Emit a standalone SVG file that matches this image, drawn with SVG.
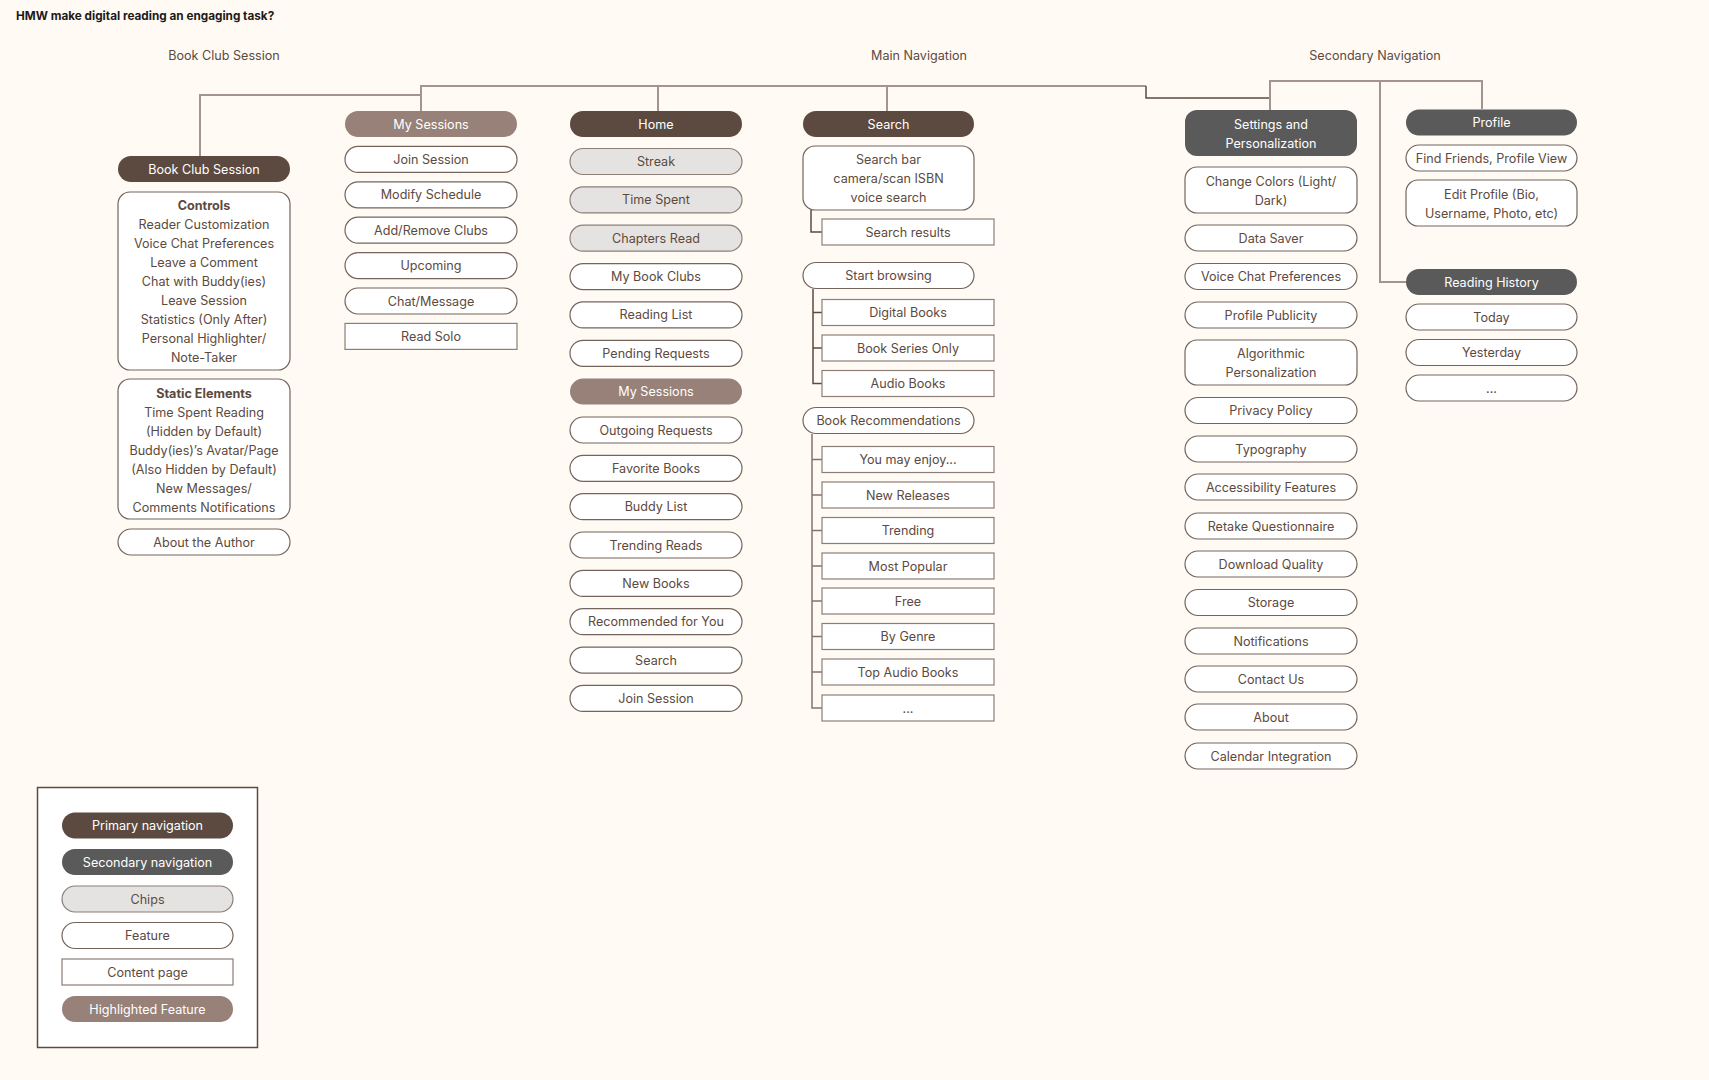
<svg xmlns="http://www.w3.org/2000/svg" width="1709" height="1080" viewBox="0 0 1709 1080">
<style>
text{font-family:Inter,"Liberation Sans",sans-serif;font-size:12.6px;fill:#5c4a40;text-anchor:middle}
.title{font-size:11.75px;font-weight:700;fill:#1e1a18;text-anchor:start}
.b{font-weight:700}
.w{fill:#ffffff}
.pri{fill:#5c4a40}
.sec{fill:#5a5a5a}
.chip{fill:#e5e3e1;stroke:#8c7e77;stroke-width:1.2}
.feat{fill:#ffffff;stroke:#74645c;stroke-width:1.2}
.page{fill:#ffffff;stroke:#8c7e77;stroke-width:1.2}
.hl{fill:#978178}
.cl{fill:none;stroke:#a3958d;stroke-width:2}
.cd{fill:none;stroke:#5c4a40;stroke-width:1.5}
.ct{fill:none;stroke:#85746b;stroke-width:1.5}
</style>
<rect x="0" y="0" width="1709" height="1080" fill="#fffbf4"/>
<text class="title" x="16" y="20">HMW make digital reading an engaging task?</text>
<text x="224" y="59.5">Book Club Session</text>
<text x="919" y="59.5">Main Navigation</text>
<text x="1375" y="59.5">Secondary Navigation</text>

<g id="connectors">
<path class="cl" d="M200,156 V95 H421"/>
<path class="cl" d="M421,111 V86 H1146"/>
<path class="cl" d="M658,86 V111"/>
<path class="cl" d="M887,86 V111"/>
<path class="cd" d="M1146,86 V98 H1270"/>
<path class="cl" d="M1270,110 V81 H1482 V109"/>
<path class="cl" d="M1380,81 V282 H1406"/>
<path class="cd" d="M811,210 V232 H822"/>
<path class="cd" d="M813,289 V383.5 H822 M813,312.5 H822 M813,348 H822"/>
<path class="ct" d="M812,434 V708 H822 M812,459.5 H822 M812,495 H822 M812,530.5 H822 M812,566 H822 M812,601 H822 M812,636.5 H822 M812,672 H822"/>
</g>

<!-- Column 1: Book Club Session -->
<g id="bcs"><rect class="pri" x="118" y="156" width="172" height="26" rx="13"/><text class="w" x="204" y="173.5">Book Club Session</text></g>
<g id="controls"><rect class="feat" x="118" y="192" width="172" height="178" rx="12"/>
<text class="b" x="204" y="209.5">Controls</text>
<text x="204" y="228.5">Reader Customization</text>
<text x="204" y="247.5">Voice Chat Preferences</text>
<text x="204" y="266.5">Leave a Comment</text>
<text x="204" y="285.5">Chat with Buddy(ies)</text>
<text x="204" y="304.5">Leave Session</text>
<text x="204" y="323.5">Statistics (Only After)</text>
<text x="204" y="342.5">Personal Highlighter/</text>
<text x="204" y="361.5">Note-Taker</text></g>
<g id="static"><rect class="feat" x="118" y="379" width="172" height="140" rx="12"/>
<text class="b" x="204" y="397.5">Static Elements</text>
<text x="204" y="416.5">Time Spent Reading</text>
<text x="204" y="435.5">(Hidden by Default)</text>
<text x="204" y="454.5">Buddy(ies)’s Avatar/Page</text>
<text x="204" y="473.5">(Also Hidden by Default)</text>
<text x="204" y="492.5">New Messages/</text>
<text x="204" y="511.5">Comments Notifications</text></g>
<g id="author"><rect class="feat" x="118" y="529" width="172" height="26" rx="13"/><text x="204" y="546.5">About the Author</text></g>

<!-- Column 2: My Sessions -->
<g id="mysessions"><rect class="hl" x="345" y="111" width="172" height="26" rx="13"/><text class="w" x="431" y="128.5">My Sessions</text></g>
<g id="ms-join"><rect class="feat" x="345" y="146.4" width="172" height="26" rx="13"/><text x="431" y="163.9">Join Session</text></g>
<g id="ms-modify"><rect class="feat" x="345" y="181.8" width="172" height="26" rx="13"/><text x="431" y="199.3">Modify Schedule</text></g>
<g id="ms-clubs"><rect class="feat" x="345" y="217.2" width="172" height="26" rx="13"/><text x="431" y="234.7">Add/Remove Clubs</text></g>
<g id="ms-upcoming"><rect class="feat" x="345" y="252.6" width="172" height="26" rx="13"/><text x="431" y="270.1">Upcoming</text></g>
<g id="ms-chat"><rect class="feat" x="345" y="288" width="172" height="26" rx="13"/><text x="431" y="305.5">Chat/Message</text></g>
<g id="ms-solo"><rect class="page" x="345" y="323.4" width="172" height="26"/><text x="431" y="340.9">Read Solo</text></g>

<!-- Column 3: Home -->
<g id="home"><rect class="pri" x="570" y="111" width="172" height="26" rx="13"/><text class="w" x="656" y="128.5">Home</text></g>
<g id="h-streak"><rect class="chip" x="570" y="148.5" width="172" height="26" rx="13"/><text x="656" y="166">Streak</text></g>
<g id="h-time"><rect class="chip" x="570" y="186.9" width="172" height="26" rx="13"/><text x="656" y="204.4">Time Spent</text></g>
<g id="h-chapters"><rect class="chip" x="570" y="225.2" width="172" height="26" rx="13"/><text x="656" y="242.7">Chapters Read</text></g>
<g id="h-clubs"><rect class="feat" x="570" y="263.6" width="172" height="26" rx="13"/><text x="656" y="281.1">My Book Clubs</text></g>
<g id="h-reading"><rect class="feat" x="570" y="301.9" width="172" height="26" rx="13"/><text x="656" y="319.4">Reading List</text></g>
<g id="h-pending"><rect class="feat" x="570" y="340.3" width="172" height="26" rx="13"/><text x="656" y="357.8">Pending Requests</text></g>
<g id="h-sessions"><rect class="hl" x="570" y="378.6" width="172" height="26" rx="13"/><text class="w" x="656" y="396.1">My Sessions</text></g>
<g id="h-outgoing"><rect class="feat" x="570" y="417" width="172" height="26" rx="13"/><text x="656" y="434.5">Outgoing Requests</text></g>
<g id="h-favorite"><rect class="feat" x="570" y="455.3" width="172" height="26" rx="13"/><text x="656" y="472.8">Favorite Books</text></g>
<g id="h-buddy"><rect class="feat" x="570" y="493.7" width="172" height="26" rx="13"/><text x="656" y="511.2">Buddy List</text></g>
<g id="h-trending"><rect class="feat" x="570" y="532" width="172" height="26" rx="13"/><text x="656" y="549.5">Trending Reads</text></g>
<g id="h-new"><rect class="feat" x="570" y="570.4" width="172" height="26" rx="13"/><text x="656" y="587.9">New Books</text></g>
<g id="h-rec"><rect class="feat" x="570" y="608.7" width="172" height="26" rx="13"/><text x="656" y="626.2">Recommended for You</text></g>
<g id="h-search"><rect class="feat" x="570" y="647.1" width="172" height="26" rx="13"/><text x="656" y="664.6">Search</text></g>
<g id="h-join"><rect class="feat" x="570" y="685.4" width="172" height="26" rx="13"/><text x="656" y="702.9">Join Session</text></g>

<!-- Column 4: Search -->
<g id="search"><rect class="pri" x="803" y="111" width="171" height="26" rx="13"/><text class="w" x="888.5" y="128.5">Search</text></g>
<g id="s-bar"><rect class="feat" x="803" y="146" width="171" height="64" rx="12"/>
<text x="888.5" y="163.5">Search bar</text>
<text x="888.5" y="182.5">camera/scan ISBN</text>
<text x="888.5" y="201.5">voice search</text></g>
<g id="s-results"><rect class="page" x="822" y="219" width="172" height="26"/><text x="908" y="236.5">Search results</text></g>
<g id="s-browse"><rect class="feat" x="803" y="262.5" width="171" height="26" rx="13"/><text x="888.5" y="280">Start browsing</text></g>
<g id="s-digital"><rect class="page" x="822" y="299.5" width="172" height="26"/><text x="908" y="317">Digital Books</text></g>
<g id="s-series"><rect class="page" x="822" y="335" width="172" height="26"/><text x="908" y="352.5">Book Series Only</text></g>
<g id="s-audio"><rect class="page" x="822" y="370.5" width="172" height="26"/><text x="908" y="388">Audio Books</text></g>
<g id="s-rec"><rect class="feat" x="803" y="407.5" width="171" height="26" rx="13"/><text x="888.5" y="425">Book Recommendations</text></g>
<g id="s-enjoy"><rect class="page" x="822" y="446.5" width="172" height="26"/><text x="908" y="464">You may enjoy...</text></g>
<g id="s-releases"><rect class="page" x="822" y="482" width="172" height="26"/><text x="908" y="499.5">New Releases</text></g>
<g id="s-trending"><rect class="page" x="822" y="517.5" width="172" height="26"/><text x="908" y="535">Trending</text></g>
<g id="s-popular"><rect class="page" x="822" y="553" width="172" height="26"/><text x="908" y="570.5">Most Popular</text></g>
<g id="s-free"><rect class="page" x="822" y="588" width="172" height="26"/><text x="908" y="605.5">Free</text></g>
<g id="s-genre"><rect class="page" x="822" y="623.5" width="172" height="26"/><text x="908" y="641">By Genre</text></g>
<g id="s-topaudio"><rect class="page" x="822" y="659" width="172" height="26"/><text x="908" y="676.5">Top Audio Books</text></g>
<g id="s-more"><rect class="page" x="822" y="695" width="172" height="26"/><text x="908" y="712.5">...</text></g>

<!-- Column 5: Settings -->
<g id="settings"><rect class="sec" x="1185" y="110" width="172" height="46" rx="12"/>
<text class="w" x="1271" y="128.5">Settings and</text>
<text class="w" x="1271" y="147.5">Personalization</text></g>
<g id="st-colors"><rect class="feat" x="1185" y="167" width="172" height="46" rx="12"/>
<text x="1271" y="185.5">Change Colors (Light/</text>
<text x="1271" y="204.5">Dark)</text></g>
<g id="st-data"><rect class="feat" x="1185" y="225" width="172" height="26" rx="13"/><text x="1271" y="242.5">Data Saver</text></g>
<g id="st-voice"><rect class="feat" x="1185" y="263.5" width="172" height="26" rx="13"/><text x="1271" y="281">Voice Chat Preferences</text></g>
<g id="st-publicity"><rect class="feat" x="1185" y="302" width="172" height="26" rx="13"/><text x="1271" y="319.5">Profile Publicity</text></g>
<g id="st-algo"><rect class="feat" x="1185" y="340" width="172" height="45" rx="12"/>
<text x="1271" y="357.5">Algorithmic</text>
<text x="1271" y="376.5">Personalization</text></g>
<g id="st-privacy"><rect class="feat" x="1185" y="397.5" width="172" height="26" rx="13"/><text x="1271" y="415">Privacy Policy</text></g>
<g id="st-typo"><rect class="feat" x="1185" y="436" width="172" height="26" rx="13"/><text x="1271" y="453.5">Typography</text></g>
<g id="st-access"><rect class="feat" x="1185" y="474" width="172" height="26" rx="13"/><text x="1271" y="491.5">Accessibility Features</text></g>
<g id="st-retake"><rect class="feat" x="1185" y="513" width="172" height="26" rx="13"/><text x="1271" y="530.5">Retake Questionnaire</text></g>
<g id="st-download"><rect class="feat" x="1185" y="551" width="172" height="26" rx="13"/><text x="1271" y="568.5">Download Quality</text></g>
<g id="st-storage"><rect class="feat" x="1185" y="589.5" width="172" height="26" rx="13"/><text x="1271" y="607">Storage</text></g>
<g id="st-notif"><rect class="feat" x="1185" y="628" width="172" height="26" rx="13"/><text x="1271" y="645.5">Notifications</text></g>
<g id="st-contact"><rect class="feat" x="1185" y="666" width="172" height="26" rx="13"/><text x="1271" y="683.5">Contact Us</text></g>
<g id="st-about"><rect class="feat" x="1185" y="704" width="172" height="26" rx="13"/><text x="1271" y="721.5">About</text></g>
<g id="st-calendar"><rect class="feat" x="1185" y="743" width="172" height="26" rx="13"/><text x="1271" y="760.5">Calendar Integration</text></g>

<!-- Column 6: Profile -->
<g id="profile"><rect class="sec" x="1406" y="109.5" width="171" height="26" rx="13"/><text class="w" x="1491.5" y="127">Profile</text></g>
<g id="p-friends"><rect class="feat" x="1406" y="145" width="171" height="26" rx="13"/><text x="1491.5" y="162.5">Find Friends, Profile View</text></g>
<g id="p-edit"><rect class="feat" x="1406" y="180" width="171" height="46" rx="12"/>
<text x="1491.5" y="198.5">Edit Profile (Bio,</text>
<text x="1491.5" y="217.5">Username, Photo, etc)</text></g>
<g id="history"><rect class="sec" x="1406" y="269" width="171" height="26" rx="13"/><text class="w" x="1491.5" y="286.5">Reading History</text></g>
<g id="r-today"><rect class="feat" x="1406" y="304" width="171" height="26" rx="13"/><text x="1491.5" y="321.5">Today</text></g>
<g id="r-yesterday"><rect class="feat" x="1406" y="339.5" width="171" height="26" rx="13"/><text x="1491.5" y="357">Yesterday</text></g>
<g id="r-more"><rect class="feat" x="1406" y="375" width="171" height="26" rx="13"/><text x="1491.5" y="392.5">...</text></g>

<!-- Legend -->
<g id="legend">
<rect x="37.5" y="787.5" width="220" height="260" fill="#ffffff" stroke="#5c4a40" stroke-width="1.5"/>
<rect class="pri" x="62" y="812.5" width="171" height="26" rx="13"/><text class="w" x="147.5" y="830">Primary navigation</text>
<rect class="sec" x="62" y="849" width="171" height="26" rx="13"/><text class="w" x="147.5" y="866.5">Secondary navigation</text>
<rect class="chip" x="62" y="886" width="171" height="26" rx="13"/><text x="147.5" y="903.5">Chips</text>
<rect class="feat" x="62" y="922.5" width="171" height="26" rx="13"/><text x="147.5" y="940">Feature</text>
<rect class="page" x="62" y="959" width="171" height="26"/><text x="147.5" y="976.5">Content page</text>
<rect class="hl" x="62" y="996" width="171" height="26" rx="13"/><text class="w" x="147.5" y="1013.5">Highlighted Feature</text>
</g>
</svg>
